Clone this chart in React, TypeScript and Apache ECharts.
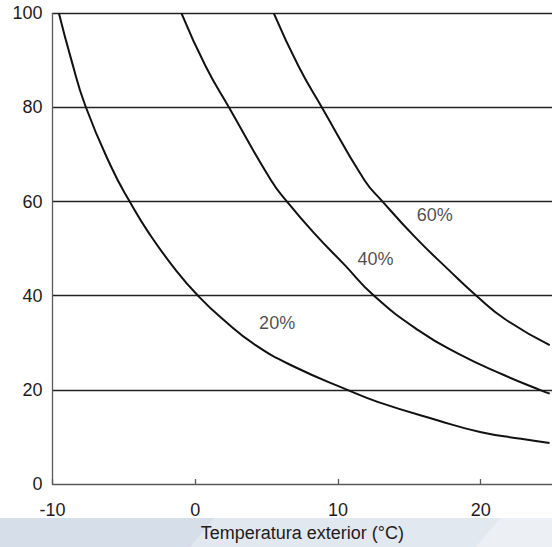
import React, { useEffect, useRef } from "react";
import * as echarts from "echarts";

// Exterior temperature (°C) and value pairs
const temp20 = [-9.55, -8.68, -7.68, -5.89, -4.61, -3.22, -1.35, 0.29, 1.9, 4.23, 7.02, 10.74, 12.83, 17.02, 20.04, 22.83, 24.83];
const val20 = [100, 90.1, 80.2, 67.4, 60.1, 53.2, 45.4, 39.7, 35.1, 29.5, 24.8, 19.9, 17.4, 13.5, 11.0, 9.6, 8.7];

const temp40 = [-0.96, 0.74, 2.37, 5.3, 6.43, 8.3, 10.45, 12.53, 15.62, 18.42, 21.67, 24.23, 24.84];
const val40 = [100, 88.7, 80.0, 64.6, 60.0, 53.4, 46.6, 40.0, 32.7, 27.7, 23.1, 19.9, 19.2];

const temp60 = [5.51, 7.25, 8.88, 11.85, 13.13, 15.39, 17.72, 19.7, 21.67, 24.84];
const val60 = [100, 88.7, 80.0, 64.6, 60.0, 52.5, 45.6, 40.0, 35.1, 29.5];

const curveNames = ["20%", "40%", "60%"];
const labelTemps = [5.74, 12.64, 16.79];
const labelValues = [34.1, 47.8, 57.1];

const xTicks = [-10, 0, 10, 20];
const yTicks = [0, 20, 40, 60, 80, 100];
const xAxisTitle = "Temperatura exterior (°C)";

const FONT = "'Liberation Sans', Arial, Helvetica, sans-serif";
const TEXT = "#1f1b1c";

export default function App() {
  const ref = useRef<HTMLDivElement>(null);
  useEffect(() => {
    if (!ref.current) return;
    const chart = echarts.init(ref.current, null, { renderer: "svg" });
    const zip = (a: number[], b: number[]) => a.map((t, i) => [t, b[i]]);
    const curves = [zip(temp20, val20), zip(temp40, val40), zip(temp60, val60)];
    chart.setOption({
      animation: false,
      backgroundColor: "#ffffff",
      graphic: [
        { type: "rect", z: -10, shape: { x: 0, y: 518, width: 552, height: 29 }, style: { fill: "#d6dfe9" } },
        { type: "polygon", z: -9, shape: { points: [[214, 518], [552, 518], [552, 547], [190, 547]] }, style: { fill: "#e2e8ef" } },
        { type: "polygon", z: -8, shape: { points: [[500, 518], [552, 518], [552, 547], [476, 547]] }, style: { fill: "#ecf0f5" } },
      ],
      grid: { left: 52.5, right: 0, top: 13.3, bottom: 63, containLabel: false },
      xAxis: {
        type: "value",
        min: xTicks[0],
        max: 25,
        interval: 10,
        name: xAxisTitle,
        nameLocation: "middle",
        nameGap: 39,
        nameTextStyle: { fontFamily: FONT, fontSize: 18, color: TEXT },
        axisLine: { show: true, onZero: false, lineStyle: { color: "#5a5a5a", width: 1.3 } },
        axisTick: { show: true, inside: true, length: 5, lineStyle: { color: "#5a5a5a", width: 1.3 } },
        axisLabel: { fontFamily: FONT, fontSize: 18, color: TEXT, margin: 17, showMaxLabel: false },
        splitLine: { show: false },
      },
      yAxis: {
        type: "value",
        min: yTicks[0],
        max: yTicks[yTicks.length - 1],
        interval: 20,
        axisLine: { show: true, onZero: false, lineStyle: { color: "#5a5a5a", width: 1.3 } },
        axisTick: { show: false },
        axisLabel: { fontFamily: FONT, fontSize: 18, color: TEXT, margin: 10 },
        splitLine: {
          show: true,
          lineStyle: { color: ["rgba(0,0,0,0)", "#222", "#222", "#222", "#222", "#222"], width: 1.3 },
        },
      },
      series: [
        ...curves.map((d, i) => ({
          type: "line",
          name: curveNames[i],
          data: d,
          smooth: 0.5,
          showSymbol: false,
          symbol: "none",
          lineStyle: { color: "#111", width: 2 },
          z: 3,
        })),
        {
          type: "scatter",
          symbolSize: 0,
          data: curveNames.map((n, i) => [labelTemps[i], labelValues[i], n]),
          label: {
            show: true,
            position: "inside",
            formatter: (p: any) => p.value[2],
            fontFamily: FONT,
            fontSize: 18,
            color: TEXT,
          },
          z: 4,
        },
      ],
    });
    return () => chart.dispose();
  }, []);
  return <div ref={ref} style={{ position: "absolute", left: 0, top: 0, width: 552, height: 547 }} />;
}
